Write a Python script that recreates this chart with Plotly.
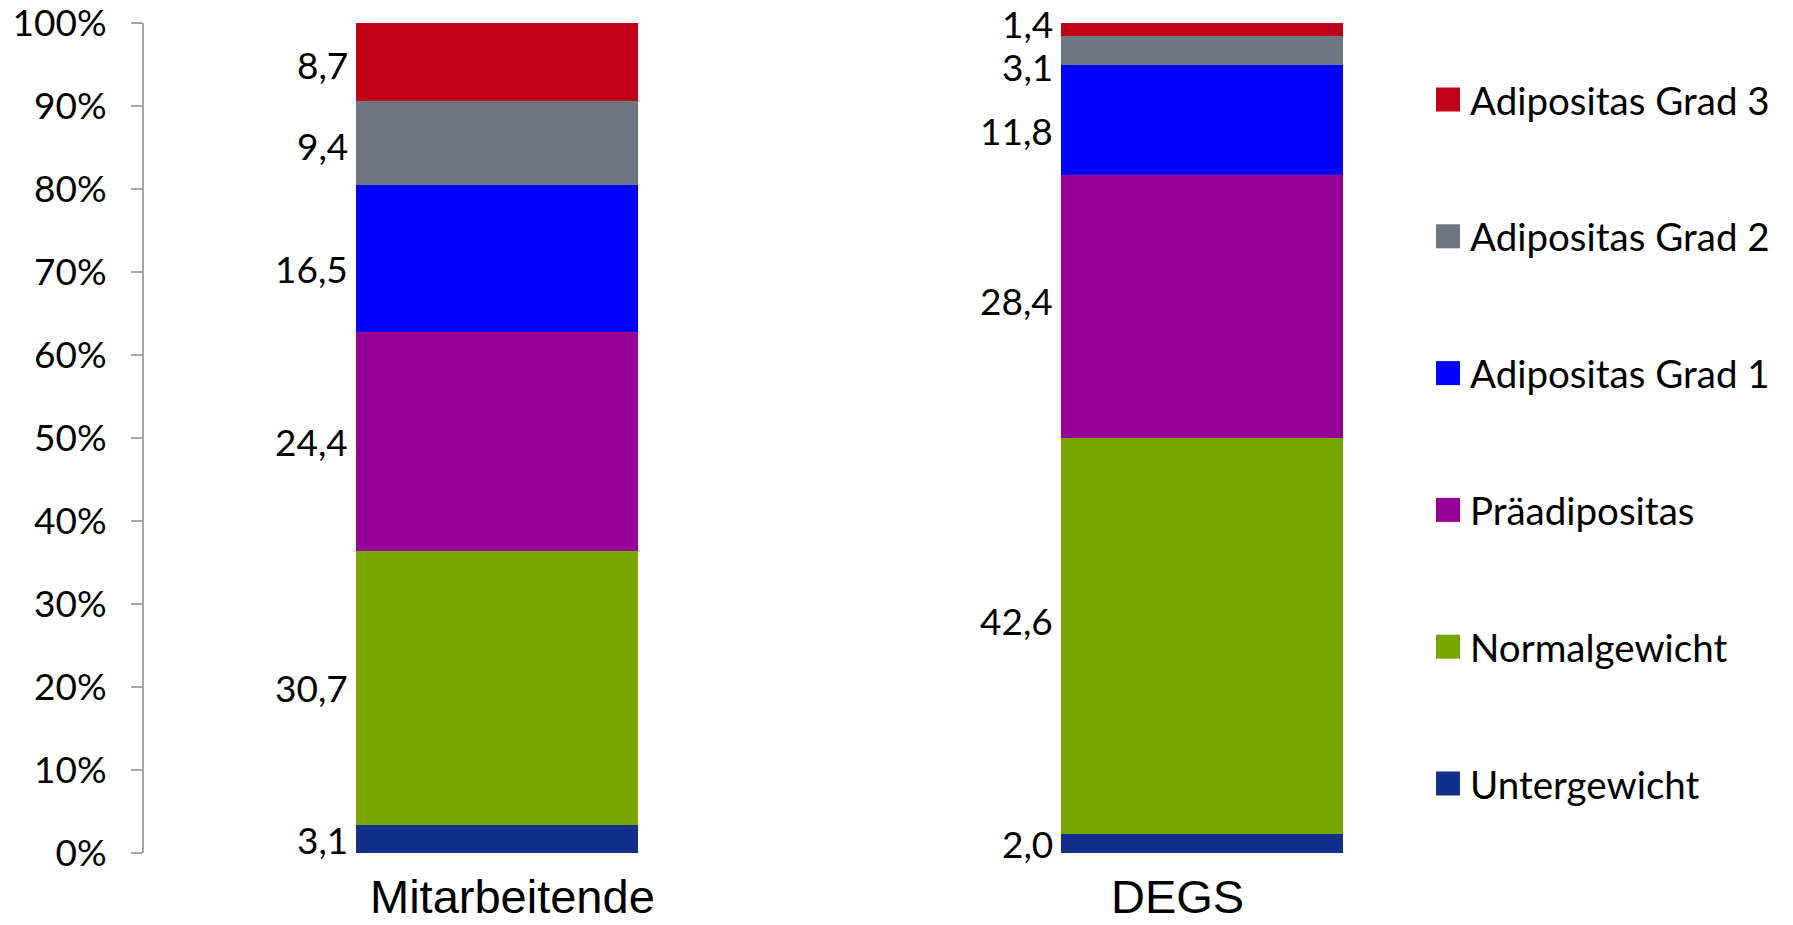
import plotly.graph_objects as go

# BMI groups (bottom to top of the stack)
series = ["Untergewicht", "Normalgewicht", "Präadipositas",
          "Adipositas Grad 1", "Adipositas Grad 2", "Adipositas Grad 3"]
categories = ["Mitarbeitende", "DEGS"]
mitarbeitende = [3.1, 30.7, 24.4, 16.5, 9.4, 8.7]
degs = [2.0, 42.6, 28.4, 11.8, 3.1, 1.4]
y_ticks = [0, 10, 20, 30, 40, 50, 60, 70, 80, 90, 100]
y_tick_labels = ["0%", "10%", "20%", "30%", "40%", "50%",
                 "60%", "70%", "80%", "90%", "100%"]

colors = ["#12308A", "#78A600", "#960096", "#0000FF", "#6D7681", "#C00018"]
# vertical nudges (px) for value labels so neighbouring labels don't collide
label_nudge = {
    "Mitarbeitende": [0, 0, 0, -10, -3, -3],
    "DEGS": [0, 16, 6, -11, -16, 6],
}
label_font = "Lato, 'Open Sans', sans-serif"
bar_width = 0.4

values = {"Mitarbeitende": mitarbeitende, "DEGS": degs}

fig = go.Figure()
for k, name in enumerate(series):
    fig.add_trace(go.Bar(
        x=categories,
        y=[values[c][k] for c in categories],
        name=name,
        marker=dict(color=colors[k], line=dict(width=0)),
        width=bar_width,
        showlegend=False,
        hoverinfo="skip",
    ))

annotations = []
# value labels to the left of each segment, at the segment middle (in percent)
for i, cat in enumerate(categories):
    vals = values[cat]
    total = sum(vals)
    base = 0.0
    for k, v in enumerate(vals):
        share = v / total * 100
        annotations.append(dict(
            x=i - bar_width / 2, y=base + share / 2, xref="x", yref="y",
            text=f"{v:.1f}".replace(".", ","), showarrow=False,
            xanchor="right", yanchor="middle", xshift=-6,
            yshift=label_nudge[cat][k],
            font=dict(family=label_font, size=37, color="#000000"),
        ))
        base += share

# category names under the bars
cat_shift = [16, -25]
for i, cat in enumerate(categories):
    annotations.append(dict(
        x=i, y=0, xref="x", yref="y", text=cat, showarrow=False,
        xanchor="center", yanchor="top", yshift=-15, xshift=cat_shift[i],
        font=dict(family="'Liberation Sans', Arial, sans-serif", size=47, color="#000000"),
    ))

# legend: top entry is the top of the stack
shapes = []
legend_x0 = 1436
legend_y_top = 99.5
legend_step = 136.8
sq = 24
for j, k in enumerate(reversed(range(len(series)))):
    cy = legend_y_top + j * legend_step
    shapes.append(dict(
        type="rect", xref="paper", yref="paper",
        x0=(legend_x0 - 144) / 1270, x1=(legend_x0 + sq - 144) / 1270,
        y0=(853 - (cy - sq / 2)) / 830, y1=(853 - (cy + sq / 2)) / 830,
        fillcolor=colors[k], line=dict(width=0), layer="above",
    ))
    annotations.append(dict(
        x=(legend_x0 + sq + 8 - 144) / 1270, y=(853 - cy) / 830,
        xref="paper", yref="paper", text=series[k], showarrow=False,
        xanchor="left", yanchor="middle",
        font=dict(family=label_font, size=38.5, color="#000000"),
    ))

fig.update_layout(
    barmode="stack",
    barnorm="percent",
    width=1793, height=925,
    margin=dict(l=144, r=379, t=23, b=72, autoexpand=False),
    paper_bgcolor="white", plot_bgcolor="white",
    showlegend=False,
    annotations=annotations,
    shapes=shapes,
    xaxis=dict(
        type="category", range=[-0.5, 1.3], automargin=False,
        showticklabels=False, showline=False, showgrid=False,
        zeroline=False, ticks="",
    ),
    yaxis=dict(
        range=[0, 100], tickmode="array", automargin=False,
        tickvals=y_ticks, ticktext=y_tick_labels,
        ticklabeloverflow="allow",
        showgrid=False, zeroline=False,
        showline=True, linecolor="#A6A6A6", linewidth=2,
        ticks="outside", ticklen=11, tickcolor="#A6A6A6", tickwidth=2,
        ticklabelstandoff=17,
        tickfont=dict(family=label_font, size=37, color="#000000"),
    ),
)

fig.write_html("out.html")
